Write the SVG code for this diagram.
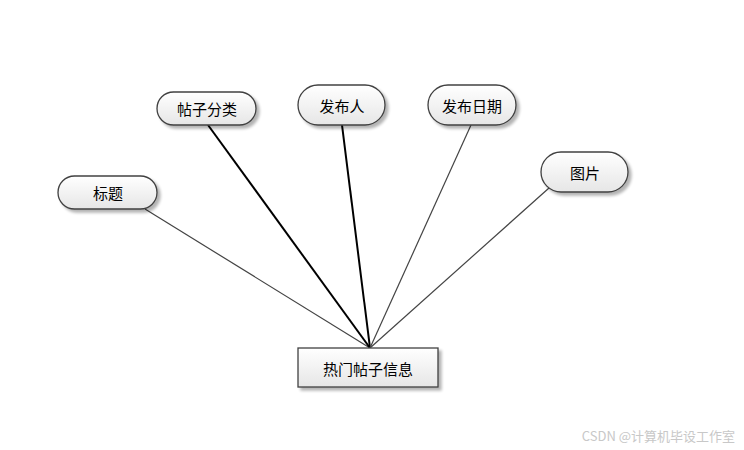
<svg xmlns="http://www.w3.org/2000/svg" width="744" height="450" viewBox="0 0 744 450">
<defs>
<linearGradient id="g" x1="0" y1="0" x2="0" y2="1">
<stop offset="0" stop-color="#ffffff"/>
<stop offset="1" stop-color="#e6e6e6"/>
</linearGradient>
<filter id="sh" x="-20%" y="-30%" width="150%" height="170%">
<feGaussianBlur in="SourceAlpha" stdDeviation="1.5"/>
<feOffset dx="3" dy="3" result="b"/>
<feComponentTransfer><feFuncA type="linear" slope="0.3"/></feComponentTransfer>
<feMerge><feMergeNode/><feMergeNode in="SourceGraphic"/></feMerge>
</filter>
</defs>
<style>
.n{fill:url(#g);stroke:#404040;stroke-width:1.3;filter:url(#sh)}
.t{font-family:"Noto Sans CJK SC","Liberation Sans",sans-serif;font-size:15px;fill:#000;text-anchor:middle;dominant-baseline:central}
.thin{stroke:#444;stroke-width:1.2;fill:none}
.thick{stroke:#000;stroke-width:2;fill:none}
</style>
<rect width="744" height="450" fill="#fff"/>
<g id="connectors">
<line class="thin" x1="145" y1="209" x2="370" y2="348"/>
<line class="thick" x1="208" y1="125" x2="370" y2="348"/>
<line class="thick" x1="342" y1="125" x2="370" y2="348"/>
<line class="thin" x1="471" y1="125" x2="370" y2="348"/>
<line class="thin" x1="549" y1="188" x2="370" y2="348"/>
</g>
<g id="biaoti"><rect class="n" x="58" y="176" width="99" height="33" rx="16.5"/><text class="t" x="108" y="192">标题</text></g>
<g id="tiezifenlei"><rect class="n" x="157" y="92" width="99" height="33" rx="16.5"/><text class="t" x="207" y="108">帖子分类</text></g>
<g id="faburen"><rect class="n" x="298" y="85" width="87" height="40" rx="20"/><text class="t" x="342" y="105">发布人</text></g>
<g id="faburiqi"><rect class="n" x="428" y="85" width="88" height="40" rx="20"/><text class="t" x="472" y="105">发布日期</text></g>
<g id="tupian"><rect class="n" x="541" y="152" width="87" height="40" rx="20"/><text class="t" x="585" y="172">图片</text></g>
<g id="remen"><rect class="n" x="298" y="348" width="140" height="39"/><text class="t" x="368" y="368">热门帖子信息</text></g>
<text x="735" y="441" font-family="Noto Sans CJK SC,Liberation Sans,sans-serif" font-size="13" fill="#c8c8c8" text-anchor="end">CSDN @计算机毕设工作室</text>
</svg>
